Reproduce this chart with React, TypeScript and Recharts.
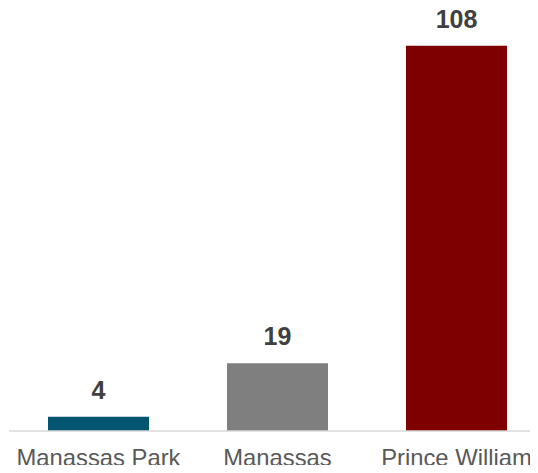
import { BarChart, Bar, XAxis, YAxis, Cell, LabelList } from "recharts";

const categories = ["Manassas Park", "Manassas", "Prince William"];
const values = [4, 19, 108];
const colors = ["#02556e", "#7f7f7f", "#7f0000"];

const data = categories.map((name, i) => ({ name, value: values[i] }));

export default function App() {
  return (
    <div style={{ margin: -8, width: 538, height: 473, overflow: "hidden" }}>
      <BarChart
        width={546}
        height={473}
        data={data}
        margin={{ top: 3, right: 0, bottom: 0, left: 9 }}
        barSize={101}
      >
        <XAxis
          dataKey="name"
          height={42}
          tickLine={false}
          tickSize={0}
          tickMargin={18}
          axisLine={{ stroke: "#d9d9d9", strokeWidth: 1.5 }}
          tick={{ fill: "#595959", fontSize: 23.8, fontFamily: "Liberation Sans, Arial, sans-serif" }}
          interval={0}
        />
        <YAxis hide domain={[0, 120]} />
        <Bar dataKey="value" isAnimationActive={false}>
          {data.map((d, i) => (
            <Cell key={d.name} fill={colors[i]} />
          ))}
          <LabelList
            dataKey="value"
            position="top"
            offset={18}
            fill="#404040"
            fontSize={25}
            fontWeight="bold"
            fontFamily="Liberation Sans, Arial, sans-serif"
          />
        </Bar>
      </BarChart>
    </div>
  );
}
